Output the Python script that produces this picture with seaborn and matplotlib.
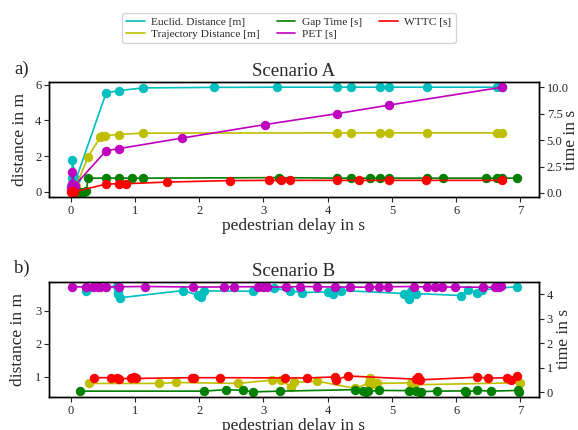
import numpy as np
import pandas as pd
import seaborn as sns
import matplotlib
import matplotlib.pyplot as plt
from matplotlib.lines import Line2D

matplotlib.use('Agg')

# Scenario A (distance series on left axis, time series on right axis)
a_euclid_x = [0.0, 0.02, 0.02, 0.08, 0.55, 0.745, 1.13, 2.23, 3.21, 4.14, 4.36, 4.81, 4.95, 5.55, 6.64, 6.71]
a_euclid_y = [0.35, 0.75, 1.77, 0.7, 5.54, 5.67, 5.82, 5.85, 5.86, 5.86, 5.86, 5.86, 5.86, 5.86, 5.86, 5.86]
a_traj_x = [0.0, 0.02, 0.08, 0.27, 0.46, 0.49, 0.53, 0.745, 1.13, 4.14, 4.36, 4.81, 4.95, 5.55, 6.64, 6.71]
a_traj_y = [0.05, 0.1, 0.3, 1.97, 3.07, 3.12, 3.15, 3.21, 3.29, 3.3, 3.3, 3.3, 3.3, 3.3, 3.3, 3.3]
a_gap_x = [0.02, 0.05, 0.1, 0.15, 0.2, 0.24, 0.27, 0.55, 0.745, 0.96, 1.13, 3.24, 4.14, 4.36, 4.66,
           4.81, 4.95, 5.55, 5.79, 6.46, 6.64, 6.71, 6.94]
a_gap_y = [0.2, 0.1, 0.05, 0.05, 0.1, 0.2, 1.4, 1.4, 1.4, 1.4, 1.4, 1.45, 1.4, 1.4, 1.4,
           1.4, 1.4, 1.4, 1.4, 1.4, 1.4, 1.4, 1.4]
a_pet_x = [0.0, 0.02, 0.02, 0.06, 0.55, 0.745, 1.73, 3.02, 4.14, 4.95, 6.71]
a_pet_y = [0.45, 0.8, 1.97, 0.7, 4.0, 4.19, 5.19, 6.47, 7.5, 8.31, 10.0]
a_wttc_x = [0.0, 0.02, 0.05, 0.55, 0.745, 0.86, 1.49, 2.48, 3.09, 3.28, 3.42, 4.14, 4.49, 4.95, 5.53, 6.71]
a_wttc_y = [0.05, 0.15, 0.1, 0.84, 0.87, 0.87, 1.03, 1.17, 1.19, 1.19, 1.19, 1.19, 1.19, 1.19, 1.19, 1.19]

# Scenario B
b_euclid_x = [0.23, 0.72, 0.73, 0.74, 0.76, 1.75, 1.98, 2.02, 2.08, 2.83, 3.16, 3.42, 3.6, 4.0, 4.08,
              4.21, 5.19, 5.26, 5.29, 5.37, 6.07, 6.19, 6.33, 6.41, 6.95]
b_euclid_y = [3.59, 3.75, 3.58, 3.5, 3.39, 3.61, 3.47, 3.4, 3.6, 3.59, 3.68, 3.6, 3.55, 3.57, 3.51,
              3.61, 3.52, 3.34, 3.61, 3.52, 3.46, 3.63, 3.54, 3.63, 3.73]
b_traj_x = [0.28, 1.37, 1.64, 2.6, 3.13, 3.27, 3.43, 3.47, 3.83, 4.43, 4.65, 4.66, 4.69, 4.77, 5.3, 5.34, 6.99]
b_traj_y = [0.8, 0.8, 0.83, 0.8, 0.9, 0.9, 0.7, 0.83, 0.87, 0.65, 0.82, 0.97, 0.78, 0.8, 0.82, 0.76, 0.82]
b_gap_x = [0.14, 2.07, 2.42, 2.68, 2.83, 3.26, 4.42, 4.55, 4.59, 4.63, 4.8, 5.27, 5.37, 5.43, 5.46,
           5.7, 6.14, 6.15, 6.33, 6.54, 6.97, 6.98]
b_gap_y = [0.04, 0.04, 0.1, 0.07, 0.01, 0.04, 0.1, 0.04, 0.02, 0.03, 0.07, 0.06, 0.06, 0.02, 0.02,
           0.04, 0.05, 0.01, 0.07, 0.04, 0.07, 0.0]
b_pet_x = [0.02, 0.23, 0.34, 0.42, 0.46, 0.55, 0.75, 1.15, 1.9, 2.39, 2.54, 2.91, 3.0, 3.05, 3.35,
           3.57, 3.83, 4.12, 4.35, 4.65, 4.8, 4.94, 5.34, 5.54, 5.67, 5.78, 5.98, 6.42, 6.61, 6.66, 6.7]
b_pet_y = [4.31, 4.3, 4.31, 4.28, 4.32, 4.3, 4.31, 4.32, 4.3, 4.3, 4.31, 4.31, 4.28, 4.3, 4.3,
           4.32, 4.31, 4.3, 4.3, 4.29, 4.31, 4.31, 4.32, 4.3, 4.3, 4.3, 4.3, 4.29, 4.29, 4.32, 4.33]
b_wttc_x = [0.36, 0.62, 0.72, 0.75, 0.94, 0.98, 1.02, 1.89, 1.92, 2.33, 3.34, 3.68, 4.11, 4.13, 4.31,
            5.37, 5.41, 5.43, 6.33, 6.5, 6.79, 6.85, 6.95]
b_wttc_y = [0.59, 0.59, 0.57, 0.54, 0.57, 0.6, 0.56, 0.59, 0.59, 0.59, 0.58, 0.58, 0.62, 0.5, 0.66,
            0.53, 0.6, 0.5, 0.61, 0.57, 0.59, 0.51, 0.67]

labels = ['Euclid. Distance [m]', 'Trajectory Distance [m]', 'Gap Time [s]', 'PET [s]', 'WTTC [s]']
colors = ['c', 'y', 'g', 'm', 'r']

sns.set_style('ticks')
plt.rcParams['font.family'] = ['Liberation Serif', 'DejaVu Serif']

fig, axes = plt.subplots(2, 1, figsize=(5.78, 4.3), dpi=100)
fig.subplots_adjust(left=49 / 578, right=539 / 578, top=1 - 82 / 430, bottom=1 - 397 / 430, hspace=0.73)

scenarios = [
    ('Scenario A', 'a)',
     [(a_euclid_x, a_euclid_y), (a_traj_x, a_traj_y)],
     [(a_gap_x, a_gap_y), (a_pet_x, a_pet_y), (a_wttc_x, a_wttc_y)],
     (-0.31, 6.15), (-0.42, 10.5), [0, 2, 4, 6], [0, 2.5, 5, 7.5, 10], -0.043, 1.049),
    ('Scenario B', 'b)',
     [(b_euclid_x, b_euclid_y), (b_traj_x, b_traj_y)],
     [(b_gap_x, b_gap_y), (b_pet_x, b_pet_y), (b_wttc_x, b_wttc_y)],
     (0.39, 3.88), (-0.2, 4.52), [1, 2, 3], [0, 1, 2, 3, 4], -0.047, 1.035),
]

for ax, (title, tag, left_series, right_series, ylim_l, ylim_r, yt_l, yt_r, llab_x, rlab_x) in zip(axes, scenarios):
    ax2 = ax.twinx()
    for (x, y), col in zip(left_series, colors[:2]):
        df = pd.DataFrame({'x': x, 'y': y})
        sns.lineplot(data=df, x='x', y='y', ax=ax, color=col, marker='o', markersize=6,
                     mec=col, estimator=None, legend=False, lw=1.2)
    for (x, y), col in zip(right_series, colors[2:]):
        df = pd.DataFrame({'x': x, 'y': y})
        sns.lineplot(data=df, x='x', y='y', ax=ax2, color=col, marker='o', markersize=6,
                     mec=col, estimator=None, legend=False, lw=1.2)
    ax.set_xlim(-0.34, 7.29)
    ax.set_ylim(*ylim_l)
    ax2.set_ylim(*ylim_r)
    ax.set_yticks(yt_l)
    ax2.set_yticks(yt_r)
    if title == 'Scenario A':
        ax2.set_yticklabels(['0.0', '2.5', '5.0', '7.5', '10.0'])
    ax.set_xticks(range(8))
    ax.tick_params(labelsize=9, pad=2)
    ax2.tick_params(labelsize=9, pad=2)
    ax.set_xlabel('pedestrian delay in s', fontsize=12.5, labelpad=1)
    ax.set_ylabel('distance in m', fontsize=12.5)
    ax2.set_ylabel('time in s', fontsize=12.5)
    ax.yaxis.set_label_coords(llab_x, 0.5)
    ax2.yaxis.set_label_coords(rlab_x, 0.5)
    ax.set_title(title, fontsize=13.5, pad=4)
    for sp in list(ax.spines.values()) + list(ax2.spines.values()):
        sp.set_linewidth(1.0)
        sp.set_color('black')
    pos = ax.get_position()
    fig.text(0.025, pos.y1 + 0.01, tag, fontsize=13.5, va='bottom', ha='left')

handles = [Line2D([], [], color=c, lw=1.2) for c in colors]
fig.legend(handles, labels, loc='upper center', bbox_to_anchor=(0.5, 1 - 13 / 430), ncol=3,
           fontsize=8.2, frameon=True, handlelength=1.6, handletextpad=0.6, columnspacing=1.5,
           borderpad=0.35, labelspacing=0.2, borderaxespad=0)

plt.savefig('out.png', dpi=100)
